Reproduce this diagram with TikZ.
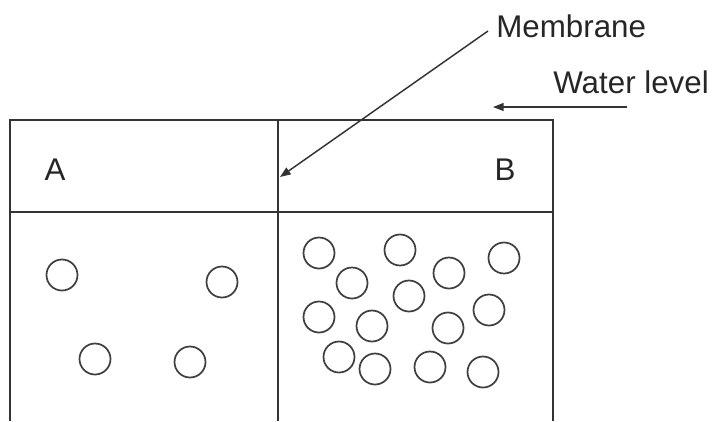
\documentclass[tikz,border=0pt]{standalone}
\usepackage{fontspec}
\setmainfont{Liberation Sans}
\usetikzlibrary{arrows.meta,positioning}

\begin{document}
\begin{tikzpicture}[x=0.75pt, y=-0.75pt, >={Triangle[length=8pt,width=6pt]},
  lbl/.style={font=\fontsize{23.5}{27}\selectfont, inner sep=0pt, text=black!85},
  wall/.style={line width=1.5pt, draw=black!80},
  particle/.style={line width=1.3pt, draw=black!75},
  pointer/.style={->, line width=1.1pt, draw=black!80}]

\useasboundingbox (0,0) rectangle (712,421);

% Container
\draw[wall] (10,421) -- (10,120) -- (553,120) -- (553,421);
\draw[wall] (10,212) -- (553,212);

% Membrane
\draw[line width=1.2pt, black!80] (278,120) -- (278,421);
\coordinate (memtip) at (280,177);

% Compartment labels
\node[lbl] (ca) at (55,170) {A};
\node[lbl] (cb) at (505,170) {B};

% Callouts
\node[lbl, anchor=base west] (memlbl) at (496,37) {Membrane};
\node[lbl, anchor=base west] (waterlbl) at (553,93) {Water level};
\coordinate (memfrom) at (488,31);
\coordinate (waterfrom) at (627,107);
\coordinate (watertip) at (493,107);
\draw[pointer] (memfrom) -- (memtip);
\draw[pointer] (waterfrom) -- (watertip);

% Solute particles, side A
\foreach \px/\py in {62/275, 222/282, 95/359, 190/362}
  \draw[particle] (\px,\py) circle[radius=15.5];

% Solute particles, side B
\foreach \px/\py in {319/253, 400/250, 504/258, 352/283, 449/273, 409/296,
                     319/317, 372/326, 448/328, 489/310, 339/357, 375/369,
                     430/367, 483/372}
  \draw[particle] (\px,\py) circle[radius=15.5];

\end{tikzpicture}
\end{document}
